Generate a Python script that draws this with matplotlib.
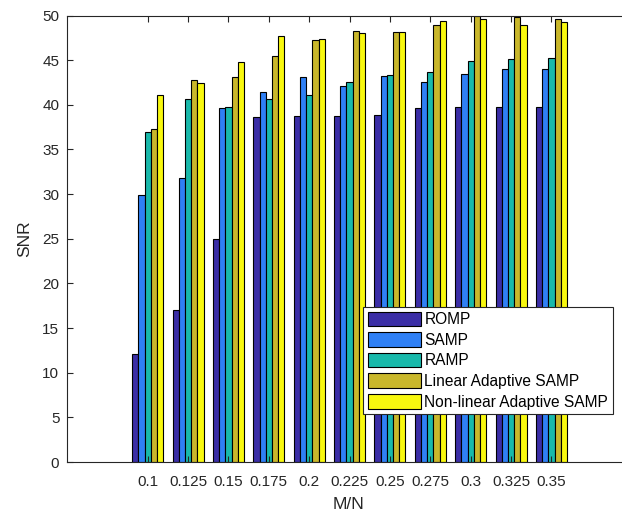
import matplotlib
matplotlib.use("Agg")
from matplotlib import pyplot as plt
import numpy as np

# данные
mn = [0.1, 0.125, 0.15, 0.175, 0.2, 0.225, 0.25, 0.275, 0.3, 0.325, 0.35]
tick_labels = ['0.1', '0.125', '0.15', '0.175', '0.2', '0.225', '0.25', '0.275', '0.3', '0.325', '0.35']
names = ['ROMP', 'SAMP', 'RAMP', 'Linear Adaptive SAMP', 'Non-linear Adaptive SAMP']
romp = [12.1, 17.0, 25.0, 38.6, 38.7, 38.8, 38.9, 39.6, 39.8, 39.8, 39.8]
samp = [29.9, 31.8, 39.6, 41.4, 43.1, 42.1, 43.2, 42.5, 43.4, 44.0, 44.0]
ramp = [36.9, 40.6, 39.8, 40.6, 41.1, 42.5, 43.3, 43.7, 44.9, 45.1, 45.2]
lin_samp = [37.3, 42.8, 43.1, 45.5, 47.3, 48.3, 48.2, 48.9, 49.9, 49.8, 49.6]
nonlin_samp = [41.1, 42.4, 44.8, 47.7, 47.4, 48.0, 48.1, 49.4, 49.6, 48.9, 49.3]
series = [romp, samp, ramp, lin_samp, nonlin_samp]
colors = ['#3b2ea6', '#2f80f5', '#19b9ab', '#c9b72b', '#f8f80f']

plt.rcParams['font.family'] = ['Liberation Sans', 'DejaVu Sans']
grey = '#262626'

fig = plt.figure(figsize=(6.22, 5.13), dpi=100)
ax = fig.add_axes([67 / 622, 51 / 513, 565.2 / 622, 446.5 / 513])

step = 0.025
w = step * 0.769 / 5
x = np.array(mn)
for i, (vals, c, nm) in enumerate(zip(series, colors, names)):
    ax.bar(x + (i - 2) * w, vals, width=w, color=c, edgecolor='black',
           linewidth=0.8, label=nm)

ax.set_xlim(0.05, 0.40)
ax.set_ylim(0, 50)
ax.set_xticks(mn)
ax.set_xticklabels(tick_labels)
ax.set_yticks(np.arange(0, 51, 5))
ax.tick_params(direction='in', length=4, width=0.8, color=grey,
               labelcolor=grey, labelsize=11, top=True)
ax.tick_params(axis='x', pad=9)
ax.tick_params(axis='y', pad=5.5)
for s in ax.spines.values():
    s.set_color(grey)
    s.set_linewidth(0.8)
ax.spines['right'].set_visible(False)

ax.set_xlabel('M/N', fontsize=12.5, color=grey)
ax.set_ylabel('SNR', fontsize=12.5, color=grey)
ax.xaxis.set_label_coords(0.5 + (349 - 349.6) / 565.2, -(497 - 462) / 446.5)
ax.yaxis.set_label_coords(-(67 - 32) / 565.2, (462 - 239) / 446.5)

leg = ax.legend(loc='upper left', bbox_to_anchor=(363 / 622, 1 - 307 / 513),
                bbox_transform=fig.transFigure, borderaxespad=0,
                fontsize=11.2, handlelength=3.4, handleheight=1.07,
                labelspacing=0.32, handletextpad=0.25, borderpad=0.3,
                fancybox=False, framealpha=1)
leg.get_frame().set_edgecolor(grey)
leg.get_frame().set_linewidth(0.8)
for t in leg.get_texts():
    t.set_color('black')

fig.savefig('out.png', dpi=100)
